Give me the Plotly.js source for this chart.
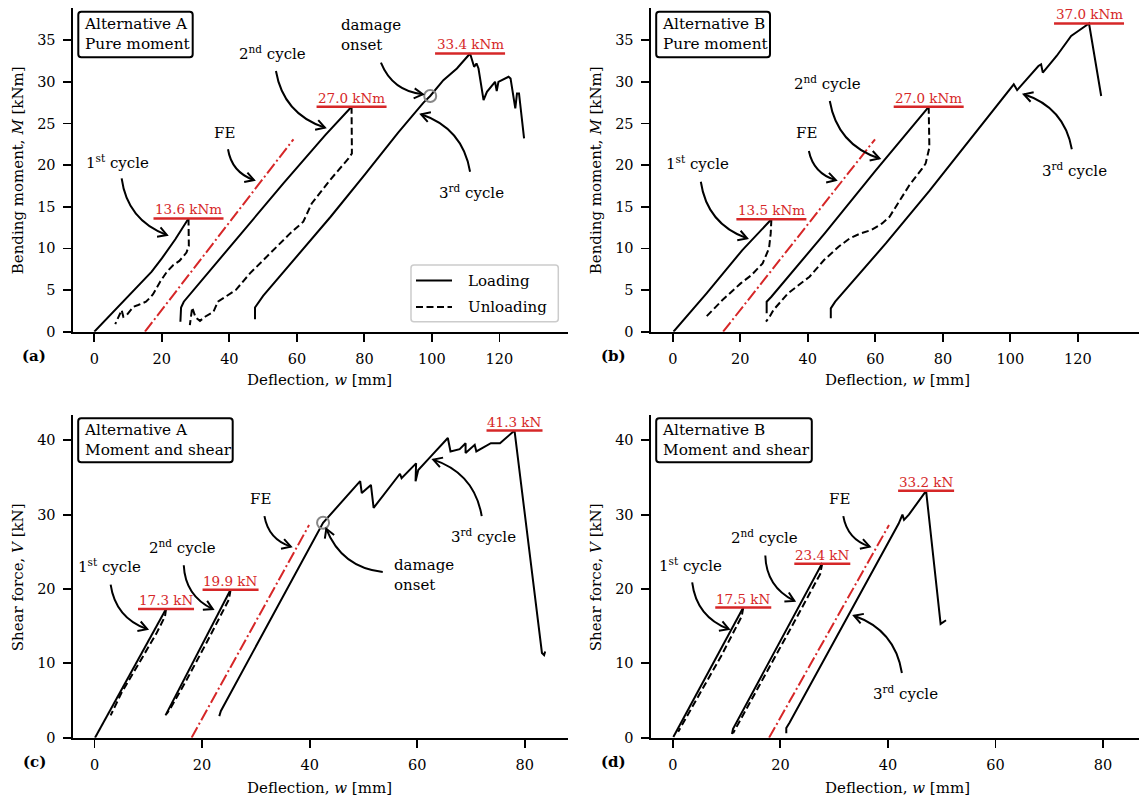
<!DOCTYPE html>
<html><head><meta charset="utf-8">
<script src="https://cdn.plot.ly/plotly-3.0.1.min.js"></script>
<style>html,body{margin:0;padding:0;background:#fff}#chart{width:1139px;height:800px}</style>
</head><body><div id="chart"></div>
<script>
// ---------------- data: panel (a) Alternative A, pure moment ----------------
const aLoad1X = [0, 5, 10, 17, 20, 24, 27.9];
const aLoad1Y = [0, 2.1, 4.2, 7.2, 8.8, 11.1, 13.6];
const aUnload1X = [27.9, 28.0, 27.3, 25.2, 23.4, 21.5, 19.5, 17.4, 16.3, 15.3, 13.0, 11.6, 9.6, 8.6, 8.1, 7.1, 6.2];
const aUnload1Y = [13.6, 10.3, 9.5, 8.5, 8.0, 7.2, 6.0, 4.5, 4.0, 3.6, 3.2, 3.0, 2.0, 1.8, 2.6, 1.6, 0.9];
const aLoad2X = [25.5, 25.7, 26.5, 36.6, 46.1, 56, 68.4, 76.2];
const aLoad2Y = [1.2, 2.9, 3.6, 8.5, 13.0, 17.8, 23.6, 27.0];
const aUnload2X = [76.2, 76.3, 75.3, 69.8, 64.4, 61.9, 58.0, 52.1, 46.1, 41.9, 36.6, 35.3, 32.8, 31.3, 30.0, 29.0, 28.6, 28.3];
const aUnload2Y = [27.0, 21.4, 20.8, 18.2, 15.4, 13.2, 11.8, 9.4, 7.0, 5.0, 3.6, 2.4, 1.8, 1.3, 1.7, 2.9, 1.6, 0.8];
const aLoad3X = [47.6, 47.6, 50.0, 60, 70, 80, 90, 97.5, 99.5, 103.4, 107.4, 111.3, 112.5, 113.2, 113.8, 115.3, 116.3, 118.7, 119.2, 119.7, 122.7, 123.3, 124.7, 125.2, 125.8, 127.3];
const aLoad3Y = [1.5, 2.9, 4.3, 9.0, 13.8, 18.8, 23.9, 27.5, 28.3, 30.2, 31.6, 33.4, 31.8, 32.2, 31.6, 27.8, 28.8, 30.0, 28.9, 30.0, 30.6, 30.4, 26.8, 28.6, 28.6, 23.2];
const aFEX = [15.0, 59.0];
const aFEY = [0, 23.1];
const aDamageX = [99.5];
const aDamageY = [28.3];
const aPeakX = [27.9, 76.2, 111.3];
const aPeakY = [13.6, 27.0, 33.4];

// ---------------- data: panel (b) Alternative B, pure moment ----------------
const bLoad1X = [0.2, 10, 20.6, 29.2];
const bLoad1Y = [0, 4.6, 9.8, 13.5];
const bUnload1X = [29.2, 29.0, 28.5, 26.6, 23.3, 20.1, 14.7, 9.4];
const bUnload1Y = [13.5, 11.8, 10.0, 8.2, 6.8, 5.8, 3.8, 1.6];
const bLoad2X = [27.8, 27.8, 29.2, 45, 60, 75.8];
const bLoad2Y = [2.2, 3.6, 4.2, 11.8, 19.3, 27.0];
const bUnload2X = [75.8, 76.0, 74.9, 73.9, 70.1, 66.9, 64.2, 62.0, 58.8, 55.6, 52.4, 49.1, 44.8, 40.5, 34.1, 29.8, 28.7, 27.6];
const bUnload2Y = [27.0, 22.1, 20.2, 19.6, 17.6, 15.6, 13.8, 13.0, 12.2, 11.8, 11.2, 10.2, 8.6, 6.6, 4.6, 2.6, 1.8, 1.2];
const bLoad3X = [46.8, 46.8, 48.1, 63.1, 76, 88, 100.2, 101, 102, 108.3, 109.1, 109.6, 113.7, 118, 120.1, 123.3, 126.9];
const bLoad3Y = [1.6, 2.8, 3.6, 10.6, 16.9, 23.0, 29.3, 29.7, 29.0, 31.9, 32.1, 31.1, 33.1, 35.5, 36.1, 37.0, 28.3];
const bFEX = [14.9, 59.9];
const bFEY = [0, 23.1];
const bPeakX = [29.2, 75.8, 123.3];
const bPeakY = [13.5, 27.0, 37.0];

// ---------------- data: panel (c) Alternative A, moment and shear ----------------
const cLoad1X = [0.1, 13.3];
const cLoad1Y = [0, 17.3];
const cUnload1X = [13.3, 13.1, 11.5, 8.2, 5.0, 3.0];
const cUnload1Y = [17.3, 16.3, 14.0, 10.0, 6.0, 3.0];
const cLoad2X = [13.2, 25.3];
const cLoad2Y = [3.0, 19.9];
const cUnload2X = [25.3, 25.0, 21.0, 17.0, 14.0, 13.4];
const cUnload2Y = [19.9, 18.6, 13.0, 7.6, 3.8, 3.2];
const cLoad3X = [23.2, 23.5, 42.5, 43.6, 49.4, 49.7, 51.4, 51.9, 56.8, 57.1, 59.8, 59.7, 60.2, 62.5, 65.7, 66.2, 67.9, 69.0, 69.0, 70.7, 71.0, 73.7, 75.4, 78.1, 83.2, 83.6, 83.8];
const cLoad3Y = [2.9, 3.6, 28.9, 29.8, 34.5, 32.9, 34.0, 30.9, 35.5, 34.9, 36.9, 34.5, 36.0, 37.8, 40.3, 38.5, 38.8, 39.6, 38.3, 39.4, 38.5, 39.6, 39.6, 41.3, 11.4, 11.1, 11.6];
const cFEX = [18.05, 39.9];
const cFEY = [0, 28.6];
const cDamageX = [42.5];
const cDamageY = [28.9];
const cPeakX = [13.3, 25.3, 78.1];
const cPeakY = [17.3, 19.9, 41.3];

// ---------------- data: panel (d) Alternative B, moment and shear ----------------
const dLoad1X = [0.1, 13.1];
const dLoad1Y = [0.1, 17.5];
const dUnload1X = [13.1, 12.8, 9.0, 4.0, 1.0];
const dUnload1Y = [17.5, 16.3, 11.0, 4.5, 0.8];
const dLoad2X = [11.0, 11.2, 27.8];
const dLoad2Y = [0.5, 1.2, 23.5];
const dUnload2X = [27.8, 27.4, 22.0, 16.0, 12.0, 11.2];
const dUnload2Y = [23.5, 22.0, 14.8, 6.9, 1.6, 0.6];
const dLoad3X = [21.1, 21.1, 21.7, 42.0, 42.7, 43.0, 43.9, 47.1, 49.8, 50.8];
const dLoad3Y = [0.6, 1.3, 2.0, 28.8, 30.0, 29.3, 30.0, 33.2, 15.3, 15.8];
const dFEX = [17.9, 40.2];
const dFEY = [0, 28.6];
const dPeakX = [13.1, 27.8, 47.1];
const dPeakY = [17.5, 23.4, 33.2];

// ---------------- tick labels / legend ----------------
const xTicksTop = [0, 20, 40, 60, 80, 100, 120];
const yTicksTop = [0, 5, 10, 15, 20, 25, 30, 35];
const xTicksBot = [0, 20, 40, 60, 80];
const yTicksBot = [0, 10, 20, 30, 40];
const legendNames = ['Loading', 'Unloading'];

// ---------------- layout geometry ----------------
const W = 1139, H = 800;
const FONT = 'DejaVu Serif, Liberation Serif, serif';
const RED = '#d62728';
const DASH = '7px,3.5px';
const DASHDOT = '12px,3px,2px,3px';
const P = {
  a: {xa: 'x',  ya: 'y',  px: [72.5, 568.3], py: [8, 331.7],   xr: [-6.46, 140.4], yr: [0, 38.86]},
  b: {xa: 'x2', ya: 'y2', px: [650.5, 1139], py: [8, 331.7],   xr: [-6.61, 138.1], yr: [0, 38.86]},
  c: {xa: 'x3', ya: 'y3', px: [72.5, 568.3], py: [415, 737.7], xr: [-4.09, 88.1],  yr: [0, 43.4]},
  d: {xa: 'x4', ya: 'y4', px: [650.5, 1139], py: [415, 737.7], xr: [-4.15, 86.69], yr: [0, 43.4]}
};

const traces = [];
const shapes = [];
const annotations = [];

function line(p, xs, ys, kind, name) {
  const st = {
    load: {color: 'black', width: 2, dash: 'solid'},
    unload: {color: 'black', width: 2, dash: DASH},
    fe: {color: RED, width: 2, dash: DASHDOT}
  }[kind];
  traces.push({x: xs, y: ys, xaxis: p.xa, yaxis: p.ya, type: 'scatter', mode: 'lines',
    line: st, name: name || '', showlegend: false, hoverinfo: 'skip'});
}
function damage(p, xs, ys) {
  traces.push({x: xs, y: ys, xaxis: p.xa, yaxis: p.ya, type: 'scatter', mode: 'markers',
    marker: {symbol: 'circle-open', size: 12, color: '#878787', line: {width: 2}}, showlegend: false, hoverinfo: 'skip'});
}
function peaks(p, xs, ys, unit, halfPx) {
  const sx = (p.px[1] - p.px[0]) / (p.xr[1] - p.xr[0]);
  xs.forEach((x, i) => {
    const hw = halfPx / sx;
    shapes.push({type: 'line', xref: p.xa, yref: p.ya, x0: x - hw, x1: x + hw, y0: ys[i], y1: ys[i],
      line: {color: RED, width: 2.5}});
    annotations.push({xref: p.xa, yref: p.ya, x: x, y: ys[i], text: ys[i].toFixed(1) + ' ' + unit,
      showarrow: false, xanchor: 'center', yanchor: 'bottom', yshift: -1,
      font: {family: FONT, size: 13.5, color: RED}});
  });
}
function arrow(p, x0, y0, x1, y1, rad) {
  const sx = (p.px[1] - p.px[0]) / (p.xr[1] - p.xr[0]);
  const sy = (p.py[1] - p.py[0]) / (p.yr[1] - p.yr[0]);
  const X0 = x0 * sx, Y0 = y0 * sy, X1 = x1 * sx, Y1 = y1 * sy;
  const mx = (X0 + X1) / 2, my = (Y0 + Y1) / 2, dx = X1 - X0, dy = Y1 - Y0;
  const cx = mx + rad * dy, cy = my - rad * dx;
  let tx = X1 - cx, ty = Y1 - cy; const n = Math.hypot(tx, ty); tx /= n; ty /= n;
  const L = 10, ang = 30 * Math.PI / 180;
  const pts = [ang, -ang].map(a => {
    const c = Math.cos(a), s = Math.sin(a);
    const rx = tx * c - ty * s, ry = tx * s + ty * c;
    return [(X1 - L * rx) / sx, (Y1 - L * ry) / sy];
  });
  shapes.push({type: 'path', xref: p.xa, yref: p.ya,
    path: `M${x0},${y0} Q${cx / sx},${cy / sy} ${x1},${y1}`, line: {color: 'black', width: 2}});
  shapes.push({type: 'path', xref: p.xa, yref: p.ya,
    path: `M${pts[0][0]},${pts[0][1]} L${x1},${y1} L${pts[1][0]},${pts[1][1]}`, line: {color: 'black', width: 2}});
}
function label(p, x, y, text, anchor) {
  annotations.push({xref: p.xa, yref: p.ya, x: x, y: y, text: text, showarrow: false,
    xanchor: anchor || 'center', yanchor: 'middle', align: anchor === 'left' ? 'left' : 'center',
    font: {family: FONT, size: 15, color: 'black'}});
}
// rounded rectangle in pixel coordinates -> paper path
function roundRect(x0, y0, x1, y1, r, color, width) {
  const X = v => (v / W).toFixed(5), Y = v => (1 - v / H).toFixed(5);
  const path = `M${X(x0 + r)},${Y(y0)} L${X(x1 - r)},${Y(y0)} Q${X(x1)},${Y(y0)} ${X(x1)},${Y(y0 + r)} ` +
    `L${X(x1)},${Y(y1 - r)} Q${X(x1)},${Y(y1)} ${X(x1 - r)},${Y(y1)} L${X(x0 + r)},${Y(y1)} ` +
    `Q${X(x0)},${Y(y1)} ${X(x0)},${Y(y1 - r)} L${X(x0)},${Y(y0 + r)} Q${X(x0)},${Y(y0)} ${X(x0 + r)},${Y(y0)} Z`;
  shapes.push({type: 'path', xref: 'paper', yref: 'paper', path: path, line: {color: color, width: width}});
}
function box(x0, y0, x1, y1, text) {
  roundRect(x0, y0, x1, y1, 3, 'black', 2);
  annotations.push({xref: 'paper', yref: 'paper', x: (x0 + 4.4) / W, y: 1 - ((y0 + y1) / 2) / H,
    xanchor: 'left', yanchor: 'middle', text: text, showarrow: false, align: 'left', borderpad: 0,
    font: {family: FONT, size: 15.3, color: 'black'}});
}
function paperText(px, py, text, angle, size, anchor) {
  annotations.push({xref: 'paper', yref: 'paper', x: px / W, y: 1 - py / H, xanchor: anchor || 'center', yanchor: 'middle',
    text: text, showarrow: false, textangle: angle || 0, font: {family: FONT, size: size || 15, color: 'black'}});
}

// ---------- panel (a) ----------
line(P.a, aFEX, aFEY, 'fe');
line(P.a, aLoad1X, aLoad1Y, 'load', 'Loading');
line(P.a, aUnload1X, aUnload1Y, 'unload', 'Unloading');
line(P.a, aLoad2X, aLoad2Y, 'load');
line(P.a, aUnload2X, aUnload2Y, 'unload');
line(P.a, aLoad3X, aLoad3Y, 'load');
damage(P.a, aDamageX, aDamageY);
peaks(P.a, aPeakX, aPeakY, 'kNm', 35);
label(P.a, 7.0, 20.4, '1<sup>st</sup> cycle');
label(P.a, 38.5, 23.9, 'FE');
label(P.a, 52.7, 33.5, '2<sup>nd</sup> cycle');
label(P.a, 111.8, 16.8, '3<sup>rd</sup> cycle');
label(P.a, 72.6, 35.6, 'damage<br>onset', 'left');
arrow(P.a, 8.1, 18.4, 21.5, 11.6, 0.3);
arrow(P.a, 39.6, 21.9, 47.3, 18.2, 0.3);
arrow(P.a, 53.8, 31.3, 68.3, 24.5, 0.3);
arrow(P.a, 84.9, 32.3, 97.3, 28.5, 0.3);
arrow(P.a, 111.3, 19.2, 96.8, 26.1, 0.3);

// ---------- panel (b) ----------
line(P.b, bFEX, bFEY, 'fe');
line(P.b, bLoad1X, bLoad1Y, 'load');
line(P.b, bUnload1X, bUnload1Y, 'unload');
line(P.b, bLoad2X, bLoad2Y, 'load');
line(P.b, bUnload2X, bUnload2Y, 'unload');
line(P.b, bLoad3X, bLoad3Y, 'load');
peaks(P.b, bPeakX, bPeakY, 'kNm', 35);
label(P.b, 7.4, 20.2, '1<sup>st</sup> cycle');
label(P.b, 39.5, 23.9, 'FE');
label(P.b, 45.7, 29.9, '2<sup>nd</sup> cycle');
label(P.b, 119.0, 19.4, '3<sup>rd</sup> cycle');
arrow(P.b, 8.3, 18.0, 22.0, 11.2, 0.3);
arrow(P.b, 40.3, 21.7, 48.3, 18.2, 0.3);
arrow(P.b, 46.5, 27.7, 61.2, 20.8, 0.3);
arrow(P.b, 118.2, 21.9, 104.0, 28.5, 0.3);

// ---------- panel (c) ----------
line(P.c, cFEX, cFEY, 'fe');
line(P.c, cLoad1X, cLoad1Y, 'load');
line(P.c, cUnload1X, cUnload1Y, 'unload');
line(P.c, cLoad2X, cLoad2Y, 'load');
line(P.c, cUnload2X, cUnload2Y, 'unload');
line(P.c, cLoad3X, cLoad3Y, 'load');
damage(P.c, cDamageX, cDamageY);
peaks(P.c, cPeakX, cPeakY, 'kN', 28);
label(P.c, 2.7, 23.1, '1<sup>st</sup> cycle');
label(P.c, 16.4, 25.7, '2<sup>nd</sup> cycle');
label(P.c, 30.9, 32.1, 'FE');
label(P.c, 72.3, 27.1, '3<sup>rd</sup> cycle');
label(P.c, 55.3, 21.85, 'damage<br>onset', 'left');
arrow(P.c, 3.0, 20.6, 9.8, 14.6, 0.3);
arrow(P.c, 16.6, 23.2, 22.0, 17.3, 0.3);
arrow(P.c, 31.6, 29.8, 36.5, 25.7, 0.3);
arrow(P.c, 53.6, 22.3, 43.1, 28.1, -0.3);
arrow(P.c, 72.0, 29.8, 63.0, 37.4, 0.3);

// ---------- panel (d) ----------
line(P.d, dFEX, dFEY, 'fe');
line(P.d, dLoad1X, dLoad1Y, 'load');
line(P.d, dUnload1X, dUnload1Y, 'unload');
line(P.d, dLoad2X, dLoad2Y, 'load');
line(P.d, dUnload2X, dUnload2Y, 'unload');
line(P.d, dLoad3X, dLoad3Y, 'load');
peaks(P.d, dPeakX, dPeakY, 'kN', 28);
label(P.d, 3.2, 23.2, '1<sup>st</sup> cycle');
label(P.d, 17.0, 27.0, '2<sup>nd</sup> cycle');
label(P.d, 31.0, 32.1, 'FE');
label(P.d, 43.2, 6.0, '3<sup>rd</sup> cycle');
arrow(P.d, 3.6, 20.9, 10.4, 14.6, 0.3);
arrow(P.d, 17.2, 24.5, 22.6, 18.4, 0.3);
arrow(P.d, 31.7, 29.8, 36.6, 25.7, 0.3);
arrow(P.d, 42.6, 8.7, 33.7, 16.4, 0.3);

// ---------- legend (panel a) ----------
roundRect(411, 265, 558.3, 321.7, 3, '#cccccc', 1.5);
[{y: 280.5, dash: 'solid'}, {y: 307, dash: DASH}].forEach((it, i) => {
  shapes.push({type: 'line', xref: 'paper', yref: 'paper', x0: 416 / W, x1: 452 / W, y0: 1 - it.y / H, y1: 1 - it.y / H,
    line: {color: 'black', width: 2, dash: it.dash}});
  paperText(466, it.y, legendNames[i], 0, 15, 'left');
});

// ---------- boxes, panel letters, axis titles ----------
box(78.3, 11.7, 192.7, 57.3, 'Alternative A<br>Pure moment');
box(656.2, 11.7, 770, 57.3, 'Alternative B<br>Pure moment');
box(78.2, 418.3, 232.7, 462.3, 'Alternative A<br>Moment and shear');
box(656.2, 418.3, 811.8, 462.3, 'Alternative B<br>Moment and shear');
paperText(34.3, 356, '<b>(a)</b>');
paperText(613.3, 356, '<b>(b)</b>');
paperText(34.3, 762, '<b>(c)</b>');
paperText(613.3, 762, '<b>(d)</b>');
paperText(319, 380, 'Deflection, <i>w</i> [mm]');
paperText(897, 380, 'Deflection, <i>w</i> [mm]');
paperText(319, 787.7, 'Deflection, <i>w</i> [mm]');
paperText(897, 787.7, 'Deflection, <i>w</i> [mm]');
paperText(18.2, 170, 'Bending moment, <i>M</i> [kNm]', -90);
paperText(596.2, 170, 'Bending moment, <i>M</i> [kNm]', -90);
paperText(18.2, 577, 'Shear force, <i>V</i> [kN]', -90);
paperText(596.2, 577, 'Shear force, <i>V</i> [kN]', -90);

function axis(p, isX, ticks, anchor) {
  const dom = isX ? [p.px[0] / W, p.px[1] / W] : [1 - p.py[1] / H, 1 - p.py[0] / H];
  return {domain: dom, range: isX ? p.xr : p.yr, anchor: anchor, tickmode: 'array', tickvals: ticks,
    ticktext: ticks.map(String), showgrid: false, zeroline: false, showline: true, linewidth: 2, linecolor: 'black',
    ticks: 'outside', ticklen: 8, tickwidth: 1.8, tickcolor: 'black', ticklabelstandoff: isX ? 5 : 4,
    tickfont: {family: FONT, size: 14.5, color: 'black'}, fixedrange: true};
}

const layout = {
  width: W, height: H, margin: {l: 0, r: 0, t: 0, b: 0},
  paper_bgcolor: 'white', plot_bgcolor: 'white',
  font: {family: FONT, color: 'black'},
  xaxis: axis(P.a, true, xTicksTop, 'y'),
  yaxis: axis(P.a, false, yTicksTop, 'x'),
  xaxis2: axis(P.b, true, xTicksTop, 'y2'),
  yaxis2: axis(P.b, false, yTicksTop, 'x2'),
  xaxis3: axis(P.c, true, xTicksBot, 'y3'),
  yaxis3: axis(P.c, false, yTicksBot, 'x3'),
  xaxis4: axis(P.d, true, xTicksBot, 'y4'),
  yaxis4: axis(P.d, false, yTicksBot, 'x4'),
  showlegend: false,
  shapes: shapes,
  annotations: annotations
};

Plotly.newPlot('chart', traces, layout, {staticPlot: true, displayModeBar: false});
</script></body></html>
